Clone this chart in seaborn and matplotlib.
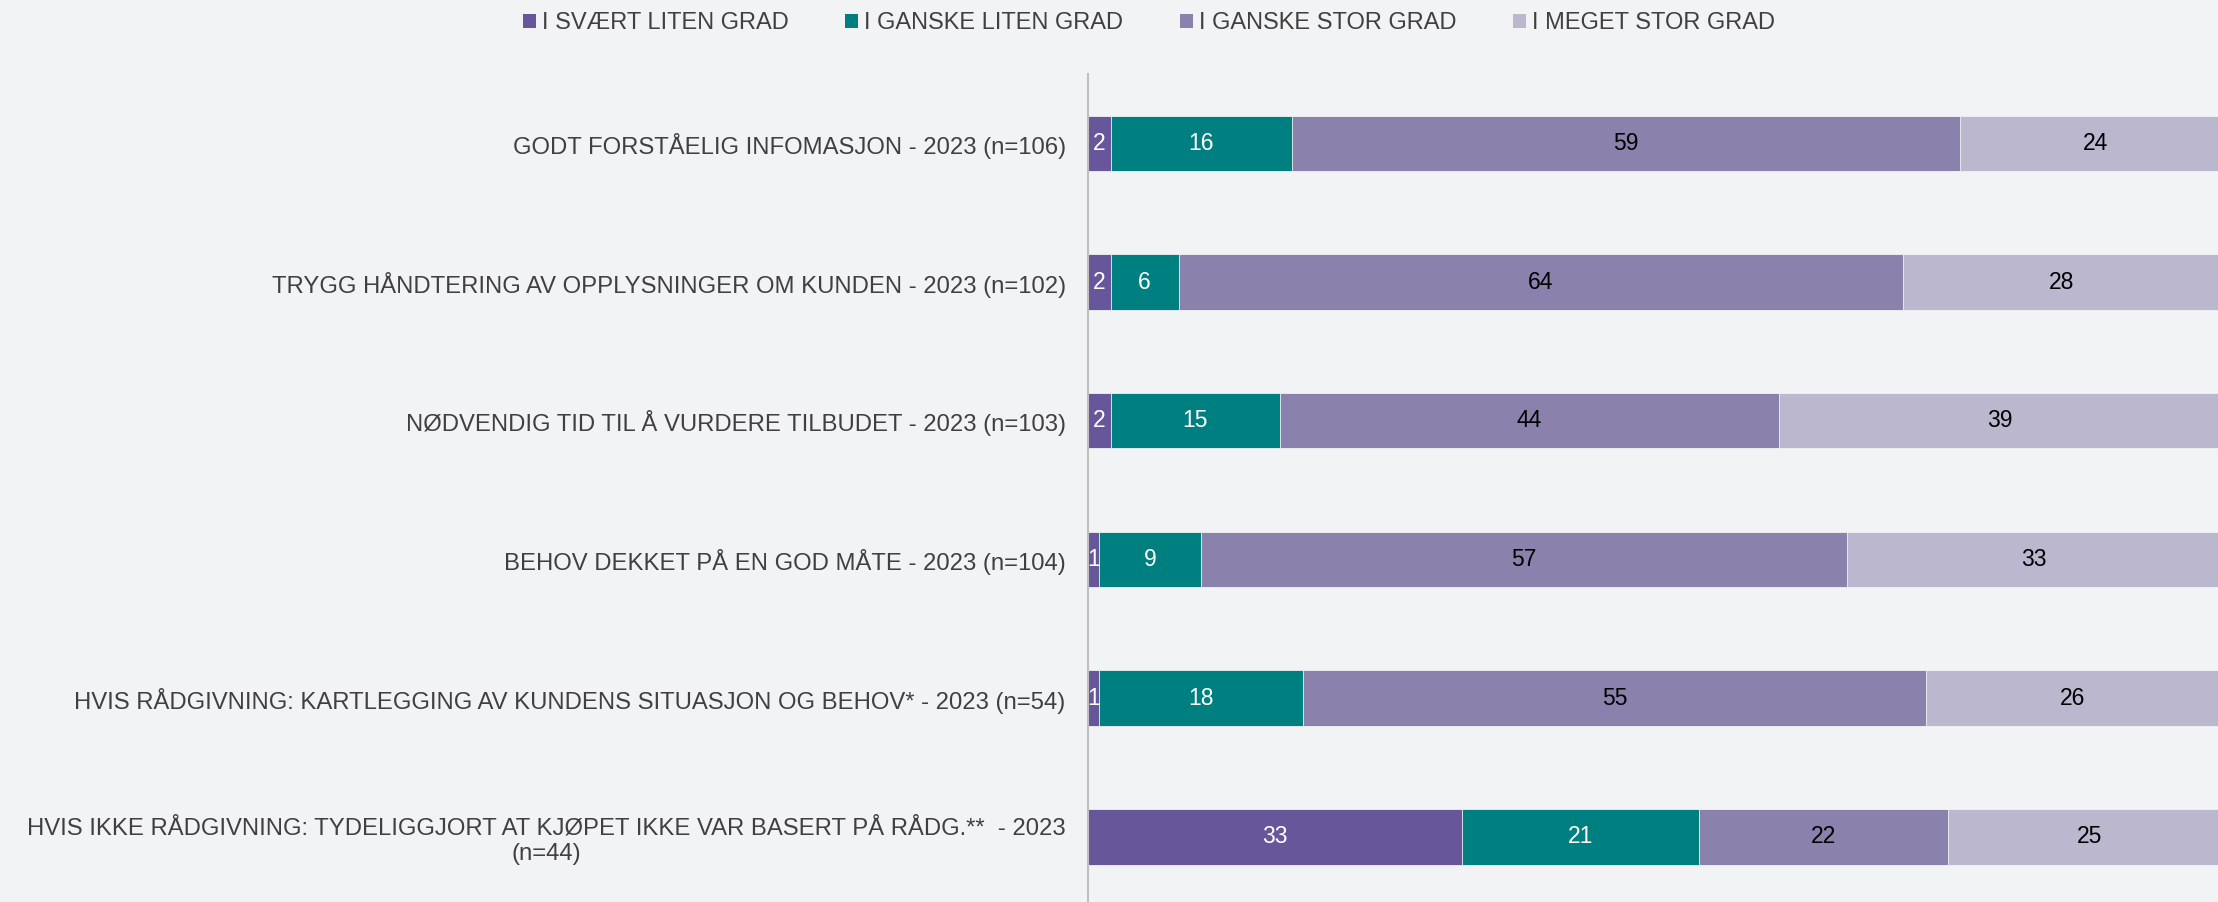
import matplotlib
matplotlib.use("Agg")
import matplotlib.pyplot as plt
import seaborn as sns
import numpy as np
import pandas as pd
from matplotlib.patches import Patch

categories = [
    "GODT FORSTÅELIG INFOMASJON - 2023 (n=106)",
    "TRYGG HÅNDTERING AV OPPLYSNINGER OM KUNDEN - 2023 (n=102)",
    "NØDVENDIG TID TIL Å VURDERE TILBUDET - 2023 (n=103)",
    "BEHOV DEKKET PÅ EN GOD MÅTE - 2023 (n=104)",
    "HVIS RÅDGIVNING: KARTLEGGING AV KUNDENS SITUASJON OG BEHOV* - 2023 (n=54)",
    "HVIS IKKE RÅDGIVNING: TYDELIGGJORT AT KJØPET IKKE VAR BASERT PÅ RÅDG.**  - 2023\n(n=44)",
]
series_names = ["I SVÆRT LITEN GRAD", "I GANSKE LITEN GRAD", "I GANSKE STOR GRAD", "I MEGET STOR GRAD"]
svaert_liten = [2, 2, 2, 1, 1, 33]
ganske_liten = [16, 6, 15, 9, 18, 21]
ganske_stor = [59, 64, 44, 57, 55, 22]
meget_stor = [24, 28, 39, 33, 26, 25]

colors = ["#67569A", "#007F80", "#8A82AC", "#BAB7CE"]
label_colors = ["white", "white", "black", "black"]
bg = "#F2F3F5"
text_color = "#404040"

sns.set_theme(style="white")
plt.rcParams["font.family"] = ["Liberation Sans", "DejaVu Sans"]

series = [svaert_liten, ganske_liten, ganske_stor, meget_stor]
vals = np.array(series, dtype=float)
cum = np.cumsum(vals, axis=0)

fig = plt.figure(figsize=(22.18, 9.02), dpi=100, facecolor=bg)
ax = fig.add_axes([0.4905, -0.0046, 0.5105, 0.9226])
ax.set_facecolor(bg)

# draw stacked bars via layered cumulative sums (largest first)
for i in reversed(range(len(series))):
    df = pd.DataFrame({"cat": categories, "val": cum[i]})
    sns.barplot(data=df, x="val", y="cat", orient="h", color=colors[i],
                saturation=1, width=0.4, ax=ax, edgecolor=bg, linewidth=0.6)

# value labels
for i in range(len(series)):
    for j in range(len(categories)):
        v = vals[i, j]
        left = cum[i, j] - v
        ax.text(left + v / 2, j, f"{int(v)}", ha="center", va="center",
                fontsize=16.5, color=label_colors[i])

ax.set_xlim(0, 100)
ax.set_ylim(len(categories) - 0.5, -0.5)
ax.set_xlabel("")
ax.set_ylabel("")
ax.set_xticks([])
ax.tick_params(axis="y", length=0, pad=16, labelsize=17.2, labelcolor=text_color)
for lbl in ax.get_yticklabels():
    lbl.set_multialignment("center")
for s in ["top", "right", "bottom"]:
    ax.spines[s].set_visible(False)
ax.spines["left"].set_color("#BFBFBF")
ax.spines["left"].set_linewidth(1.5)

handles = [Patch(facecolor=c, edgecolor="none") for c in colors]
fig.legend(handles, series_names, loc="center", bbox_to_anchor=(0.518, 0.974),
           ncol=4, frameon=False, fontsize=17, labelcolor=text_color,
           handlelength=0.55, handleheight=0.55, handletextpad=0.25,
           columnspacing=2.4)

fig.savefig("out.png", dpi=100, facecolor=bg)
